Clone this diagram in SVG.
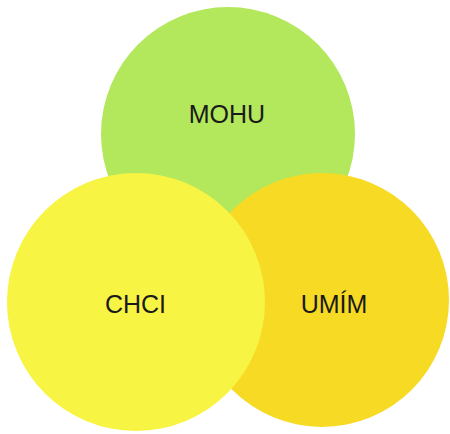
<svg xmlns="http://www.w3.org/2000/svg" width="450" height="434" viewBox="0 0 450 434">
<style>
text{font-family:"Liberation Sans",Arial,sans-serif;font-size:25px;fill:#1a1a1a;text-anchor:middle}
</style>
<rect width="450" height="434" fill="#ffffff"/>
<g id="mohu"><circle cx="228" cy="134" r="127" fill="#B3E85C"/><text x="227" y="123">MOHU</text></g>
<g id="umim"><circle cx="322" cy="300" r="127" fill="#F6DA24"/><text x="334" y="313">UMÍM</text></g>
<g id="chci"><circle cx="136" cy="302" r="129" fill="#F8F443"/><text x="135.5" y="313">CHCI</text></g>
<g id="connectors"/>
</svg>
